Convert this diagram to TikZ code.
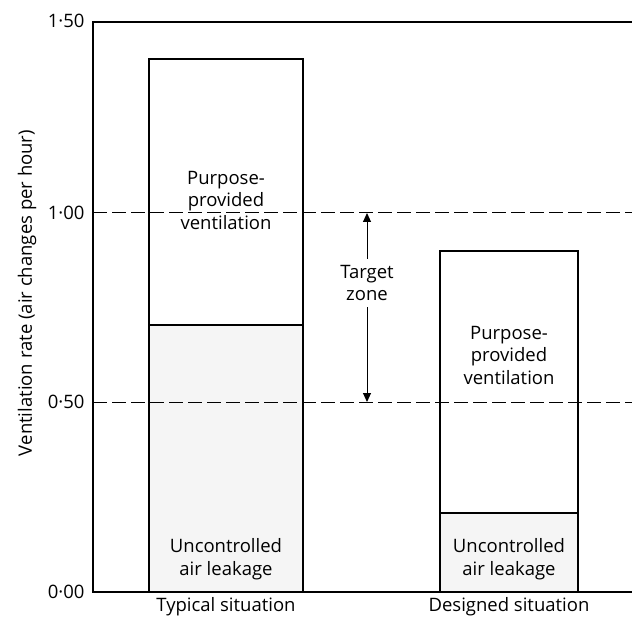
\documentclass[tikz,border=0pt]{standalone}
\usepackage{fontspec}
\setmainfont{Open Sans}
\usetikzlibrary{arrows.meta}
\begin{document}
\begin{tikzpicture}[x=1pt,y=-1pt,
  axisline/.style={line width=1.4pt},
  barline/.style={line width=1.2pt},
  leak/.style={fill=black!4},
  dashline/.style={line width=1pt, dash pattern=on 14pt off 5pt},
  lbl/.style={font=\fontsize{18.5}{22.5}\selectfont, align=center},
  ticklbl/.style={font=\fontsize{18.5}{22}\selectfont, anchor=east}]
\useasboundingbox (0,0) rectangle (632,620);
% bars
\draw[barline, leak] (149,592) rectangle (303,325);
\draw[barline] (149,325) rectangle (303,59);
\draw[barline, leak] (440,592) rectangle (578,513);
\draw[barline] (440,513) rectangle (578,251);
% dashed target lines
\draw[dashline] (93,213) -- (632,213);
\draw[dashline] (93,402) -- (632,402);
% axes
\draw[axisline] (632,22) -- (93,22) -- (93,592) -- (632,592);
% tick labels
\node[ticklbl] (t150) at (88,21) {1·50};
\node[ticklbl] (t100) at (88,213) {1·00};
\node[ticklbl] (t050) at (88,402) {0·50};
\node[ticklbl] (t000) at (88,592) {0·00};
% axis title
\node[lbl, rotate=90] (ylab) at (27,293) {Ventilation rate (air changes per hour)};
% category labels
\node[lbl] (c1) at (226,607) {Typical situation};
\node[lbl] (c2) at (509,607) {Designed situation};
% bar texts
\node[lbl] (p1) at (226,200) {Purpose-\\provided\\ventilation};
\node[lbl] (u1) at (226,559) {Uncontrolled\\air leakage};
\node[lbl] (p2) at (509,355) {Purpose-\\provided\\ventilation};
\node[lbl] (u2) at (509,559) {Uncontrolled\\air leakage};
% target zone
\node[lbl, inner sep=6pt] (tz) at (367,283) {Target\\zone};
\coordinate (top) at (367,213);
\coordinate (bot) at (367,402);
\draw[line width=1pt, -{Triangle[length=9pt,width=8pt]}] (tz.north) -- (top);
\draw[line width=1pt, -{Triangle[length=9pt,width=8pt]}] (tz.south) -- (bot);
\end{tikzpicture}
\end{document}
